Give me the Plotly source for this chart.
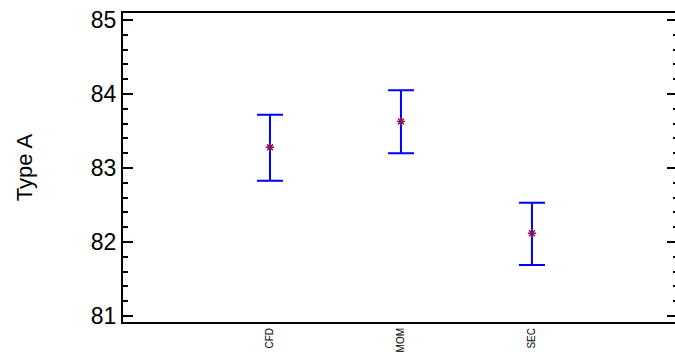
import plotly.graph_objects as go

categories = ["CFD", "MOM", "SEC"]
means = [83.28, 83.63, 82.12]
upper = [83.72, 84.05, 82.53]
lower = [82.83, 83.20, 81.69]

err_plus = [u - m for u, m in zip(upper, means)]
err_minus = [m - l for m, l in zip(means, lower)]
xpos = [0, 1, 2]

fig = go.Figure()
fig.add_trace(go.Scatter(
    x=xpos, y=means, mode="markers",
    marker=dict(symbol="asterisk-open", size=7, color="#8B1060",
                line=dict(color="#8B1060", width=1.5)),
    error_y=dict(type="data", symmetric=False, array=err_plus, arrayminus=err_minus,
                 color="#0000FF", thickness=2, width=13),
    showlegend=False,
))
# invisible trace for right axis ticks
fig.add_trace(go.Scatter(x=[xpos[0]], y=[means[0]], yaxis="y2", mode="markers",
                         marker=dict(opacity=0), showlegend=False, hoverinfo="skip"))

yr = [80.92, 85.095]
fig.update_layout(
    width=675, height=355,
    margin=dict(l=123, r=0, t=13, b=33),
    paper_bgcolor="white", plot_bgcolor="white",
    font=dict(family="Liberation Sans, Arial, sans-serif", color="black"),
    xaxis=dict(
        range=[-1.122, 3.092], tickmode="array", tickvals=xpos, ticktext=categories,
        tickangle=-90, tickfont=dict(size=10), ticks="", automargin=False,
        showline=True, linecolor="black", linewidth=2, mirror=True,
        showgrid=False, zeroline=False,
    ),
    yaxis=dict(
        range=yr, tickvals=[81, 82, 83, 84, 85], tickfont=dict(size=23),
        ticks="inside", ticklen=10, tickwidth=2, tickcolor="black", automargin=False,
        minor=dict(ticks="inside", ticklen=5, tickwidth=2, tickcolor="black", dtick=0.2,
                   tick0=81, showgrid=False),
        showline=True, linecolor="black", linewidth=2,
        showgrid=False, zeroline=False,
        title=dict(text="Type A", font=dict(size=22), standoff=52),
    ),
    yaxis2=dict(
        range=yr, overlaying="y", side="right", tickvals=[81, 82, 83, 84, 85],
        showticklabels=False, ticks="inside", ticklen=8, tickwidth=2, tickcolor="black",
        automargin=False,
        minor=dict(ticks="inside", ticklen=2, tickwidth=2, tickcolor="black", dtick=0.2,
                   tick0=81, showgrid=False),
        showline=False, showgrid=False, zeroline=False,
    ),
)

fig.write_html(
    "out.html",
    config={"displayModeBar": False},
    post_script="document.body.style.margin='0';document.body.style.overflow='hidden';",
)
